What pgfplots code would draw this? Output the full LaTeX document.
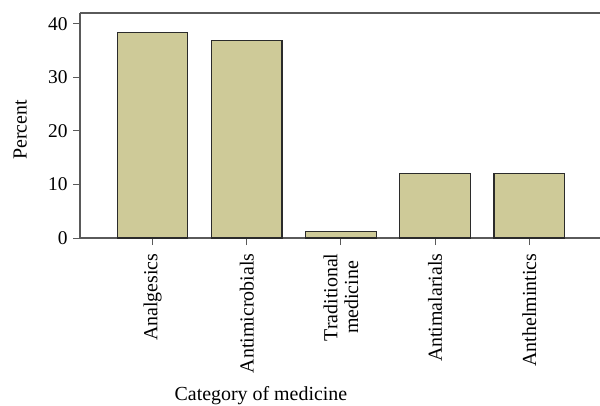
\documentclass[border=0pt]{standalone}
\usepackage{pgfplots}
\pgfplotsset{compat=1.18}
\usepackage{fontspec}
\setmainfont{Liberation Serif}
\definecolor{barfill}{HTML}{CECA98}
\definecolor{baredge}{HTML}{2B2B2B}
\definecolor{axgray}{HTML}{5A5A5A}
\begin{document}
\begin{tikzpicture}
\begin{axis}[
  scale only axis,
  width=520bp, height=225bp,
  xmin=-0.77, xmax=4.75,
  ymin=0, ymax=42,
  axis x line=box,
  axis y line=left,
  axis line style={draw=axgray, line width=1.1pt, -},
  xtick={0,1,2,3,4},
  xticklabels={Analgesics,Antimicrobials,{Traditional\\medicine},Antimalarials,Anthelmintics},
  xtick pos=bottom,
  ytick={0,10,20,30,40},
  tick align=outside,
  major tick length=7bp,
  tick style={draw=axgray, line width=1pt},
  /pgf/number format/assume math mode=true,
  yticklabel style={font=\fontsize{19.5}{22}\selectfont, xshift=-2bp},
  xticklabel style={font=\fontsize{20}{21}\selectfont, rotate=90, anchor=east, align=center, xshift=-5bp},
  xlabel={Category of medicine},
  ylabel={Percent},
  xlabel style={font=\fontsize{20}{24}\selectfont, at={(rel axis cs:0.348,0)}, anchor=base, yshift=-162bp},
  ylabel style={font=\fontsize{20}{24}\selectfont, at={(rel axis cs:-0.1025,0.48)}, anchor=base},
  clip=false,
]
\addplot[ybar, bar width=0.75, fill=barfill, draw=baredge, line width=1.2pt] coordinates {
  (0,38.4) (1,36.9) (2,1.2) (3,12.0) (4,12.0)
};
\coordinate (O) at (rel axis cs:0,0);
\coordinate (T) at (rel axis cs:1,1);
\end{axis}
\pgfresetboundingbox
\useasboundingbox ([xshift=-80bp,yshift=-168bp]O) rectangle ([yshift=13bp]T);
\end{tikzpicture}
\end{document}
